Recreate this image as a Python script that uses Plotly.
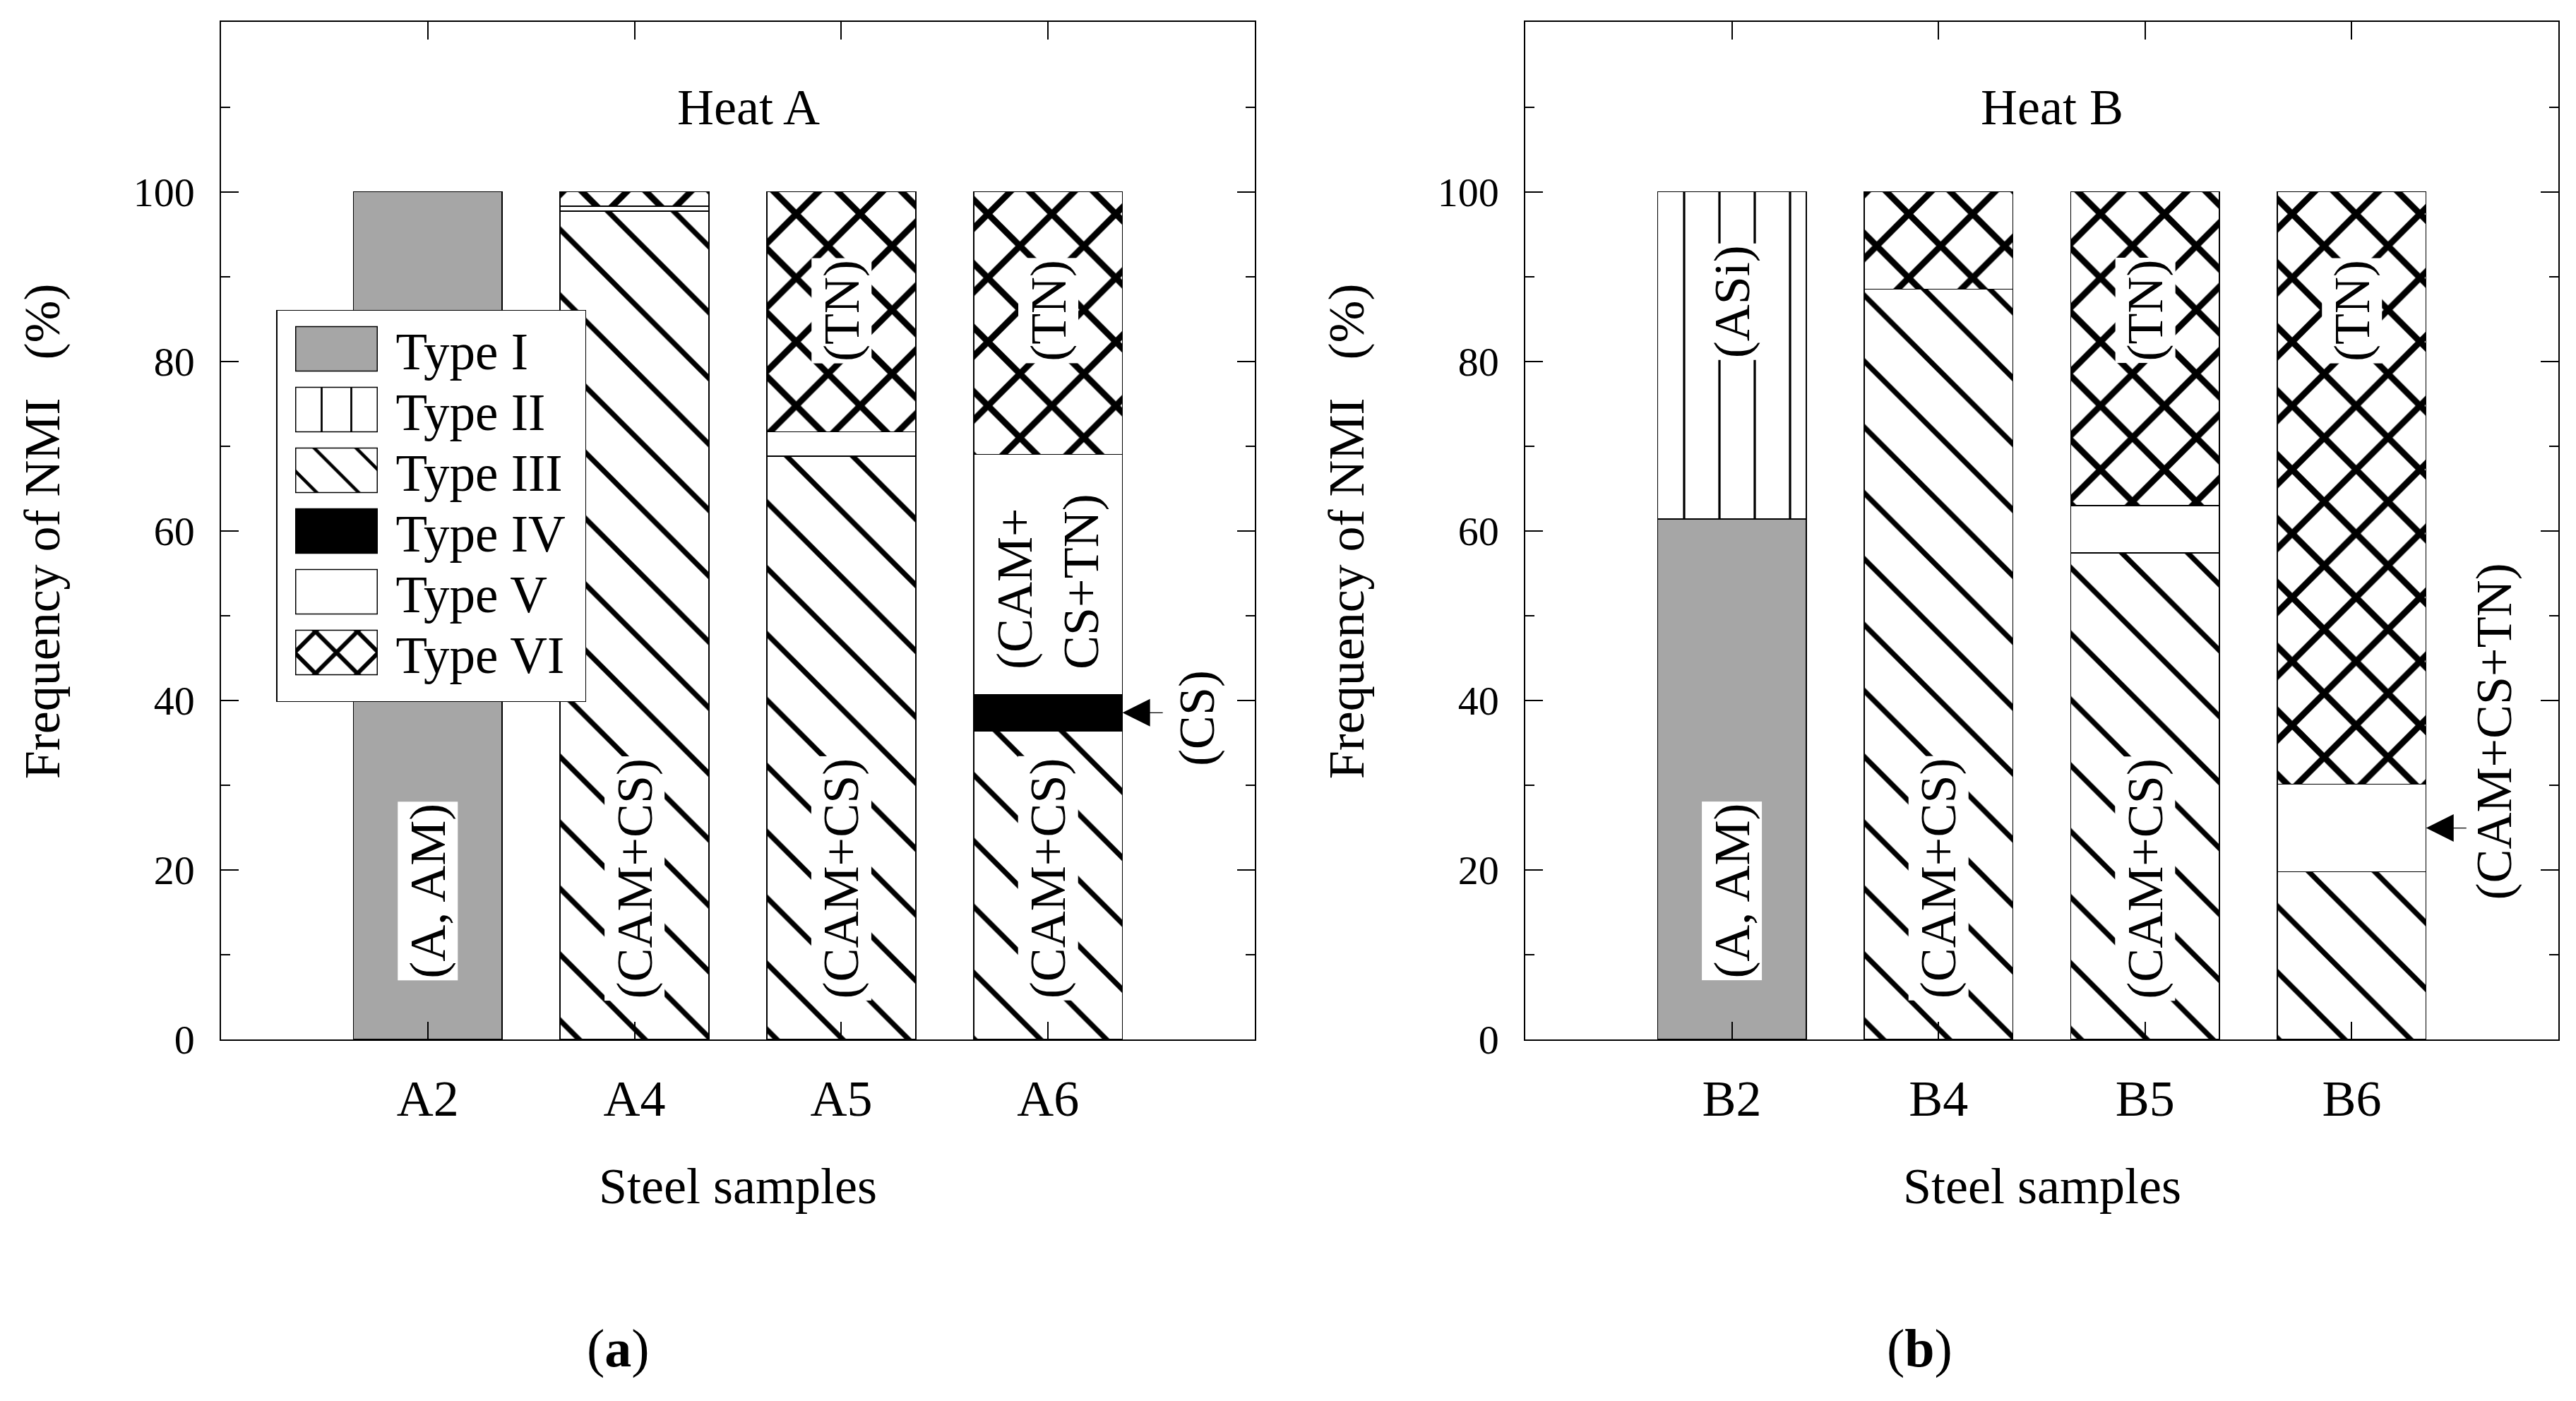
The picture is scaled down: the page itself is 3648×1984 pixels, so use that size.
import plotly.graph_objects as go

# ---------------- data ----------------
cats_a = ["A2", "A4", "A5", "A6"]
cats_b = ["B2", "B4", "B5", "B6"]
type_names = ["Type I", "Type II", "Type III", "Type IV", "Type V", "Type VI"]

heat_a_type1 = [100, None, None, None]
heat_a_type2 = [None, None, None, None]
heat_a_type3 = [None, 97.7, 68.8, 36.4]
heat_a_type4 = [None, None, None, 4.3]
heat_a_type5 = [None, 0.6, 2.9, 28.3]
heat_a_type6 = [None, 1.7, 28.3, 31.0]

heat_b_type1 = [61.4, None, None, None]
heat_b_type2 = [38.6, None, None, None]
heat_b_type3 = [None, 88.5, 57.4, 19.8]
heat_b_type4 = [None, None, None, None]
heat_b_type5 = [None, None, 5.6, 10.3]
heat_b_type6 = [None, 11.5, 37.0, 69.9]

y_major = [0, 20, 40, 60, 80, 100]
y_minor = [10, 30, 50, 70, 90, 110]

# ---------------- styles ----------------
W, H = 3648, 1984
FONT = "Liberation Serif"
BAR_W = 0.72
LINE = dict(color="black", width=1.5)


def pat(shape, size, solidity):
    return dict(shape=shape, fgcolor="black", bgcolor="white", size=size,
                solidity=solidity, fillmode="replace")


styles = [
    dict(color="#a6a6a6"),
    dict(color="white", pattern=pat("|", 50, 0.065)),
    dict(color="white", pattern=pat("\\", 66, 0.11)),
    dict(color="black"),
    dict(color="white"),
    dict(color="white", pattern=pat("x", 64, 0.26)),
]

heat_a = [heat_a_type1, heat_a_type2, heat_a_type3, heat_a_type4, heat_a_type5, heat_a_type6]
heat_b = [heat_b_type1, heat_b_type2, heat_b_type3, heat_b_type4, heat_b_type5, heat_b_type6]

fig = go.Figure()
for name, vals, st in zip(type_names, heat_a, styles):
    fig.add_trace(go.Bar(x=cats_a, y=vals, name=name, width=BAR_W,
                         marker=dict(line=LINE, **st), xaxis="x", yaxis="y",
                         legendgroup=name, showlegend=True))
for name, vals, st in zip(type_names, heat_b, styles):
    fig.add_trace(go.Bar(x=cats_b, y=vals, name=name, width=BAR_W,
                         marker=dict(line=LINE, **st), xaxis="x2", yaxis="y2",
                         legendgroup=name, showlegend=False))

y_dom = [1 - 1497 / H, 1 - 32 / H]
xa_common = dict(type="category", range=[-1, 4], showline=True, linecolor="black",
                 linewidth=1.5, mirror="ticks", ticks="inside", ticklen=25, tickwidth=1.5,
                 tickcolor="black", showgrid=False, zeroline=False, ticklabelstandoff=20,
                 tickfont=dict(family=FONT, size=72, color="black"))
ya_common = dict(range=[0, 120], tickmode="array", tickvals=y_major, showline=True,
                 linecolor="black", linewidth=1.5, mirror="ticks", ticks="inside",
                 ticklen=25, tickwidth=1.5, tickcolor="black", showgrid=False,
                 zeroline=False, ticklabelstandoff=24,
                 tickfont=dict(family=FONT, size=58, color="black"),
                 minor=dict(tickmode="array", tickvals=y_minor, ticks="inside", ticklen=13,
                            tickwidth=1.5, tickcolor="black", showgrid=False))

fig.update_layout(
    width=W, height=H, barmode="stack",
    margin=dict(l=0, r=0, t=0, b=0),
    paper_bgcolor="white", plot_bgcolor="white",
    font=dict(family=FONT, size=72, color="black"),
    xaxis=dict(domain=[313 / W, 1777 / W], anchor="y", categoryorder="array",
               categoryarray=cats_a, **xa_common),
    xaxis2=dict(domain=[2160 / W, 3623 / W], anchor="y2", categoryorder="array",
                categoryarray=cats_b, **xa_common),
    yaxis=dict(domain=y_dom, anchor="x", **ya_common),
    yaxis2=dict(domain=y_dom, anchor="x2", **ya_common),
    legend=dict(x=391 / W, y=1 - 446 / H, xanchor="left", yanchor="top",
                traceorder="normal", tracegroupgap=0, bgcolor="white",
                bordercolor="black", borderwidth=1.5, itemwidth=158,
                font=dict(family=FONT, size=73, color="black")),
    showlegend=True,
)

ann = []


def lab(text, x, y, ax="x", ay="y", bg="white", align="center"):
    ann.append(dict(text=text, x=x, y=y, xref=ax, yref=ay, showarrow=False,
                    textangle=-90, bgcolor=bg, borderpad=2, align=align,
                    xanchor="center", yanchor="middle",
                    font=dict(family=FONT, size=72, color="black")))


# left panel labels
lab("(A, AM)", "A2", 17.5)
for c in ["A4", "A5", "A6"]:
    lab("(CAM+CS)", c, 19)
for c in ["A5", "A6"]:
    lab("(TN)", c, 86)
lab("(CAM+<br>CS+TN)", "A6", 54, bg="rgba(0,0,0,0)", align="left")
# right panel labels
lab("(A, AM)", "B2", 17.5, "x2", "y2")
lab("(ASi)", "B2", 87, "x2", "y2")
for c in ["B4", "B5"]:
    lab("(CAM+CS)", c, 19, "x2", "y2")
for c in ["B5", "B6"]:
    lab("(TN)", c, 86, "x2", "y2")

# outside labels with arrows
tip_a_y = heat_a_type3[3] + heat_a_type4[3] / 2
tip_b_y = heat_b_type3[3] + heat_b_type5[3] / 2
tip_x = 3 + BAR_W / 2
lab("(CS)", 3.72, 37.9, bg="rgba(0,0,0,0)")
lab("(CAM+CS+TN)", 3.69, 36.3, "x2", "y2", bg="rgba(0,0,0,0)")
for xr, yr, ty in [("x", "y", tip_a_y), ("x2", "y2", tip_b_y)]:
    ann.append(dict(text="", x=tip_x, y=ty, xref=xr, yref=yr, showarrow=True,
                    axref=xr, ayref=yr, ax=3.56, ay=ty, arrowhead=2, arrowsize=6,
                    arrowwidth=1.3, arrowcolor="black", standoff=0))

# titles
for txt, xr, yr in [("Heat A", "x", "y"), ("Heat B", "x2", "y2")]:
    ann.append(dict(text=txt, x=1.55, y=110, xref=xr, yref=yr, showarrow=False,
                    xanchor="center", yanchor="middle",
                    font=dict(family=FONT, size=72, color="black")))
for xc in [1045, 2892]:
    ann.append(dict(text="Steel samples", x=xc / W, y=1 - 1708 / H, xref="paper",
                    yref="paper", showarrow=False, xanchor="center", yanchor="middle",
                    font=dict(family=FONT, size=72, color="black")))
for xc in [60, 1907]:
    ann.append(dict(text="Frequency of NMI   (%)", x=xc / W, y=1 - 765 / H, xref="paper",
                    yref="paper", showarrow=False, textangle=-90,
                    xanchor="center", yanchor="middle",
                    font=dict(family=FONT, size=72, color="black")))
for txt, xc in [("(<b>a</b>)", 875), ("(<b>b</b>)", 2718)]:
    ann.append(dict(text=txt, x=xc / W, y=1 - 1942 / H, xref="paper", yref="paper",
                    showarrow=False, xanchor="center", yanchor="middle",
                    font=dict(family=FONT, size=76, color="black")))

fig.update_layout(annotations=ann)

# enlarge the legend swatches (plotly draws bar swatches at a fixed 12x12 px)
# and tighten the legend row spacing to that of the original figure
legend_js = """
document.body.style.margin = '0';
var SC = 5.25;
var ROW = 86;
var gdiv = document.getElementById('{plot_id}');
function parseTr(s) {
    var m = /translate\\(\\s*([-\\d.e]+)[ ,]+([-\\d.e]+)\\s*\\)/.exec(s || '');
    return m ? [parseFloat(m[1]), parseFloat(m[2])] : [0, 0];
}
function fixLegend() {
    var ps = document.querySelectorAll('.legendpoints path');
    ps.forEach(function (p) {
        if (p.getAttribute('data-big') === '1') { return; }
        var t = p.getAttribute('transform') || '';
        p.setAttribute('d', 'M11,6H-11V-6H11Z');
        p.setAttribute('transform', t + ' scale(' + SC + ')');
        p.style.strokeWidth = (1.5 / SC) + 'px';
        p.setAttribute('data-big', '1');
    });
    var lg = document.querySelector('g.legend');
    if (!lg || lg.getAttribute('data-tight') === '1') { return; }
    var items = lg.querySelectorAll('g.traces');
    if (items.length < 2) { return; }
    var tr = [];
    items.forEach(function (g) { tr.push(parseTr(g.getAttribute('transform'))); });
    var step = tr[1][1] - tr[0][1];
    if (!(step > 0)) { return; }
    var k = ROW / step;
    items.forEach(function (g, i) {
        var y = tr[0][1] + (tr[i][1] - tr[0][1]) * k;
        g.setAttribute('transform', 'translate(' + tr[i][0] + ',' + y + ')');
    });
    var shrink = (tr[tr.length - 1][1] - tr[0][1]) * (1 - k) - 14;
    var bg = lg.querySelector('rect.bg');
    if (bg) {
        bg.setAttribute('height', parseFloat(bg.getAttribute('height')) - shrink);
        bg.setAttribute('width', parseFloat(bg.getAttribute('width')) + 22);
    }
    lg.setAttribute('data-tight', '1');
}
fixLegend();
setTimeout(fixLegend, 50);
setTimeout(fixLegend, 400);
setTimeout(fixLegend, 1200);
if (gdiv && gdiv.on) { gdiv.on('plotly_afterplot', function () { setTimeout(fixLegend, 0); }); }
"""

fig.write_html("out.html", post_script=legend_js, config={"displayModeBar": False})
